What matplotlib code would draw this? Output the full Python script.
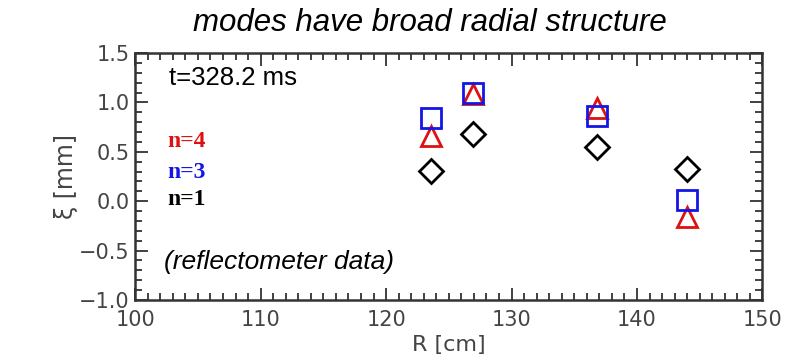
import matplotlib.pyplot as plt
from matplotlib.ticker import MultipleLocator

# Datos (R en cm, xi en mm)
r_vals = [123.6, 126.9, 136.8, 144.0]
xi_n4 = [0.66, 1.09, 0.94, -0.16]
xi_n3 = [0.84, 1.10, 0.86, 0.01]
xi_n1 = [0.31, 0.68, 0.55, 0.33]

x_ticks = [100, 110, 120, 130, 140, 150]
y_ticks = [-1.0, -0.5, 0.0, 0.5, 1.0, 1.5]

RED = "#dd1111"
BLUE = "#1515e6"
BLACK = "#000000"
GRAY = "#444444"

fig = plt.figure(figsize=(8.0, 3.61), dpi=100)
fig.patch.set_facecolor("white")
ax = fig.add_axes([0.169, 0.169, 0.784, 0.684])

ax.plot(r_vals, xi_n1, linestyle="none", marker="D", markersize=12,
        markerfacecolor="none", markeredgecolor=BLACK, markeredgewidth=2.0)
ax.plot(r_vals, xi_n4, linestyle="none", marker="^", markersize=15,
        markerfacecolor="none", markeredgecolor=RED, markeredgewidth=2.0)
ax.plot(r_vals, xi_n3, linestyle="none", marker="s", markersize=14,
        markerfacecolor="none", markeredgecolor=BLUE, markeredgewidth=2.0)

ax.set_xlim(100, 150)
ax.set_ylim(-1.0, 1.5)
ax.set_xticks(x_ticks)
ax.set_yticks(y_ticks)
ax.xaxis.set_minor_locator(MultipleLocator(1))
ax.yaxis.set_minor_locator(MultipleLocator(0.1))
ax.tick_params(which="both", direction="in", top=True, right=True,
               colors="#333333", labelcolor=GRAY, labelsize=15, width=1.3)
ax.tick_params(which="major", length=9)
ax.tick_params(which="minor", length=5)
ax.tick_params(axis="x", pad=7.5)
ax.tick_params(axis="y", pad=4)
for sp in ax.spines.values():
    sp.set_color("#333333")
    sp.set_linewidth(1.8)

ax.set_xlabel("R [cm]", fontsize=16, color=GRAY, labelpad=3)
ax.set_ylabel("ξ [mm]", fontsize=17, color=GRAY, labelpad=1)

fig.text(0.537, 0.935, "modes have broad radial structure", fontsize=22.5,
         style="italic", family="Liberation Sans", ha="center", va="center")

ax.text(0.054, 0.899, "t=328.2 ms", transform=ax.transAxes, fontsize=18.5,
        family="Liberation Sans", ha="left", va="center")
ax.text(0.051, 0.64, "n=4", transform=ax.transAxes, fontsize=17,
        family="Liberation Serif", weight="bold", color=RED, va="center")
ax.text(0.051, 0.518, "n=3", transform=ax.transAxes, fontsize=17,
        family="Liberation Serif", weight="bold", color=BLUE, va="center")
ax.text(0.051, 0.405, "n=1", transform=ax.transAxes, fontsize=17,
        family="Liberation Serif", weight="bold", color=BLACK, va="center")
ax.text(0.046, 0.154, "(reflectometer data)", transform=ax.transAxes,
        fontsize=19, style="italic", family="Liberation Sans",
        ha="left", va="center")

fig.savefig("out.png", dpi=100, facecolor="white")
plt.close(fig)
